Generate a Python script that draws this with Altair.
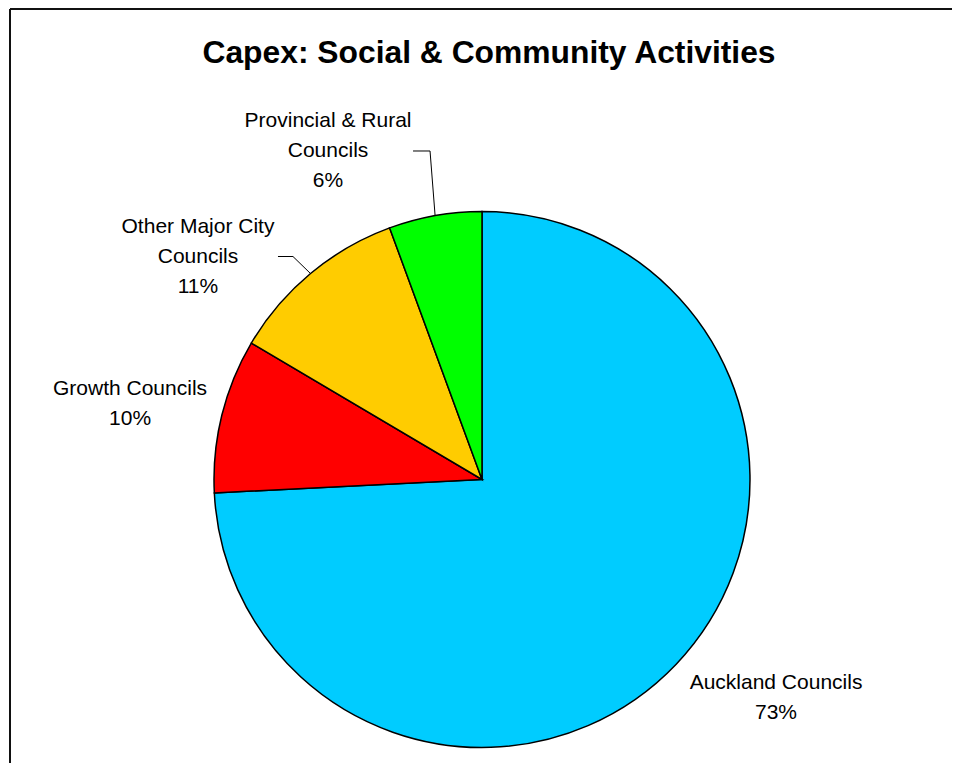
import math
import altair as alt
import pandas as pd

# ---- data ----
categories = [
    "Auckland Councils",
    "Growth Councils",
    "Other Major City Councils",
    "Provincial & Rural Councils",
]
shares = [74.2, 9.3, 10.9, 5.6]          # slice sizes as drawn
pct_labels = ["73%", "10%", "11%", "6%"]  # percentages as printed
label_lines = [
    ["Auckland Councils"],
    ["Growth Councils"],
    ["Other Major City", "Councils"],
    ["Provincial & Rural", "Councils"],
]
slice_colors = ["#00CCFF", "#FF0000", "#FFCC00", "#00FF00"]
title_text = "Capex: Social & Community Activities"

# ---- layout ----
W, H = 944, 685
PAD_TOP = 70
CX, CY = 474, 401.5
R = 268
R_LABEL = 362
LINE_H = 30
FONT = "Liberation Sans"
FRAME_Y = -PAD_TOP + 1
label_nudge = {
    "Auckland Councils": (31.7, -30.6),
    "Growth Councils": (-0.5, 11.5),
    "Other Major City Councils": (-52.4, 55.2),
    "Provincial & Rural Councils": (-90.6, 27.9),
}
leader_offsets = {
    "Other Major City Councils": (80, 95),
    "Provincial & Rural Councils": (85, 102),
}

total = sum(shares)
mids = []
acc = 0.0
for s in shares:
    mids.append((acc + s / 2) / total * 2 * math.pi)
    acc += s

pie_df = pd.DataFrame({"category": categories, "share": shares,
                       "order": list(range(len(categories)))})

text_rows, leader_rows = [], []
for cat, mid, lines, pct in zip(categories, mids, label_lines, pct_labels):
    all_lines = lines + [pct]
    nx, ny = label_nudge[cat]
    bx = CX + R_LABEL * math.sin(mid) + nx
    by = CY - R_LABEL * math.cos(mid) + ny
    n = len(all_lines)
    for i, t in enumerate(all_lines):
        text_rows.append({"category": cat, "line": t, "lx": bx,
                          "ly": by + (i - (n - 1) / 2) * LINE_H})
    if cat in leader_offsets:
        a, b = leader_offsets[cat]
        pts = [(bx + a, by), (bx + b, by),
               (CX + R * math.sin(mid), CY - R * math.cos(mid))]
        for k, (px, py) in enumerate(pts):
            leader_rows.append({"category": cat, "seq": k, "px": px, "py": py})

text_df = pd.DataFrame(text_rows)
leader_df = pd.DataFrame(leader_rows)
one = pd.DataFrame({"k": [0]})

frame_top = alt.Chart(one).mark_rule(color="#111", strokeWidth=2).encode(
    x=alt.value(2), x2=alt.value(W), y=alt.value(FRAME_Y))
frame_left = alt.Chart(one).mark_rule(color="#111", strokeWidth=2).encode(
    x=alt.value(2), y=alt.value(FRAME_Y), y2=alt.value(H + 20))

pie = alt.Chart(pie_df).mark_arc(outerRadius=R, stroke="black", strokeWidth=1.5).encode(
    theta=alt.Theta("share:Q", stack=True),
    color=alt.Color("category:N", scale=alt.Scale(domain=categories, range=slice_colors), legend=None),
    order=alt.Order("order:Q"),
    x=alt.value(CX), y=alt.value(CY),
)

leaders = alt.Chart(leader_df).mark_line(color="black", strokeWidth=1).encode(
    x=alt.X("px:Q", scale=None, axis=None),
    y=alt.Y("py:Q", scale=None, axis=None),
    detail="category:N",
    order="seq:Q",
)

labels = alt.Chart(text_df).mark_text(font=FONT, fontSize=21, color="black",
                                      align="center", baseline="middle").encode(
    x=alt.X("lx:Q", scale=None, axis=None),
    y=alt.Y("ly:Q", scale=None, axis=None),
    text="line:N",
)

# title sits relative to the top of the content bounds (the frame line)
chart = alt.layer(frame_top, frame_left, pie, leaders, labels).properties(
    width=W, height=H,
    padding={"left": 0, "top": PAD_TOP, "right": 0, "bottom": 0},
    autosize="none",
    background="white",
    title=alt.TitleParams(title_text, font=FONT, fontSize=31.8, fontWeight="bold",
                          color="black", anchor="middle", frame="group",
                          offset=-87, baseline="alphabetic", dx=9),
).configure_view(stroke=None)

chart.save("out.html", embed_options={"renderer": "svg", "actions": False})
